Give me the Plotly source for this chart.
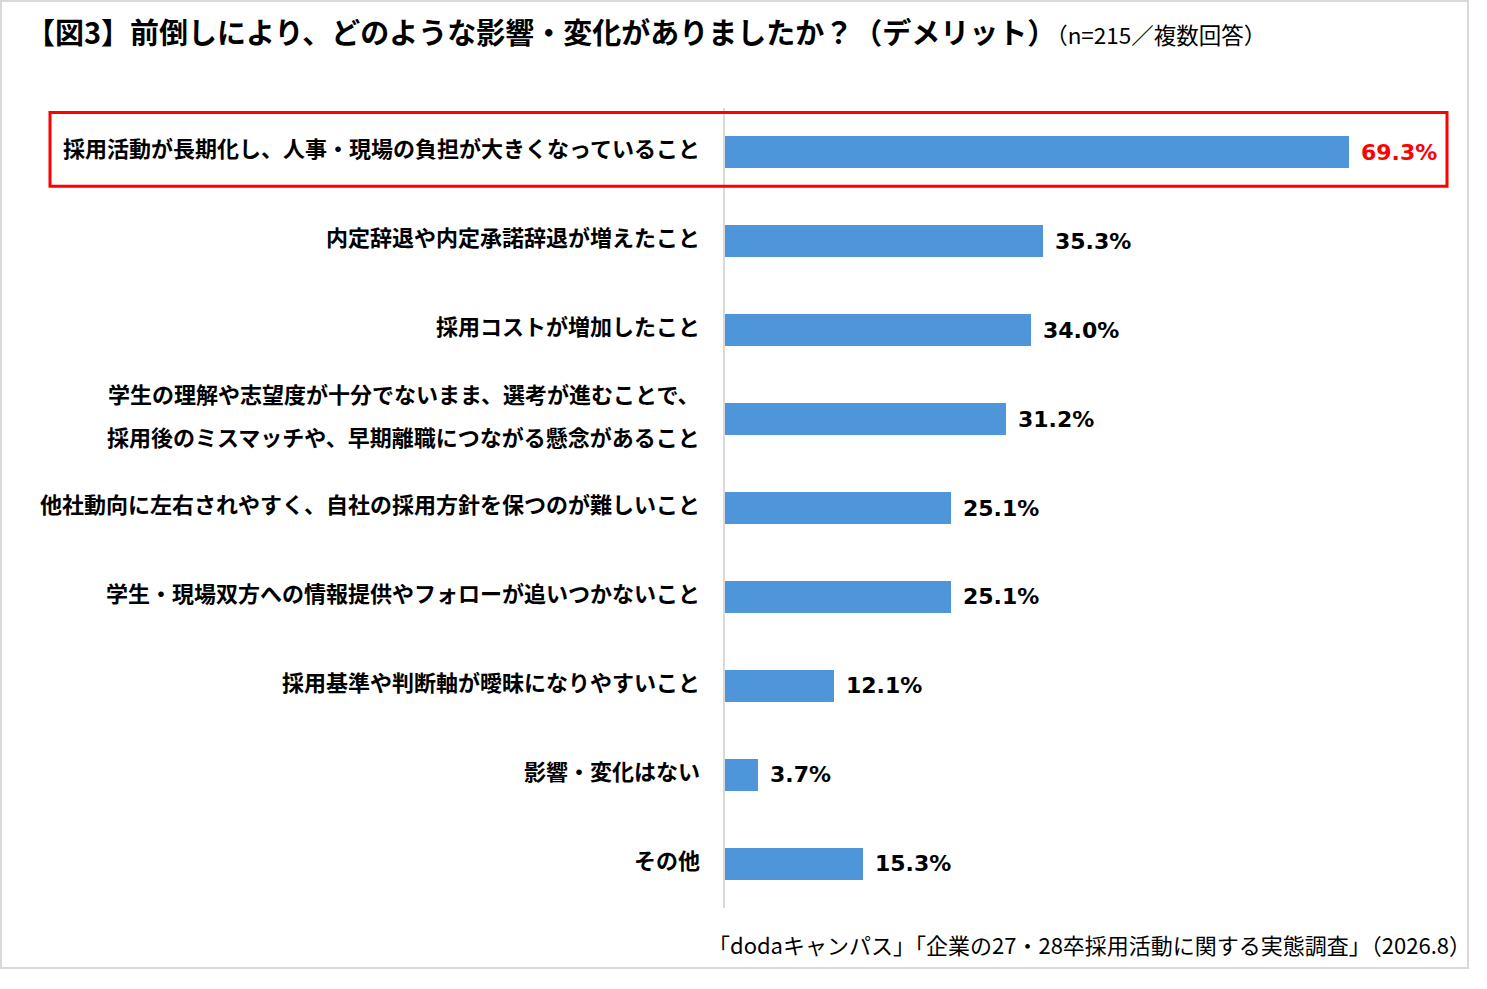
import plotly.graph_objects as go

# chart data
categories = [
    "採用活動が長期化し、人事・現場の負担が大きくなっていること",
    "内定辞退や内定承諾辞退が増えたこと",
    "採用コストが増加したこと",
    "学生の理解や志望度が十分でないまま、選考が進むことで、\n採用後のミスマッチや、早期離職につながる懸念があること",
    "他社動向に左右されやすく、自社の採用方針を保つのが難しいこと",
    "学生・現場双方への情報提供やフォローが追いつかないこと",
    "採用基準や判断軸が曖昧になりやすいこと",
    "影響・変化はない",
    "その他",
]
values = [69.3, 35.3, 34.0, 31.2, 25.1, 25.1, 12.1, 3.7, 15.3]
highlight = [True, False, False, False, False, False, False, False, False]

title_main = "【図3】前倒しにより、どのような影響・変化がありましたか？（デメリット）"
title_note = "（n=215／複数回答）"
source_text = "「dodaキャンパス」「企業の27・28卒採用活動に関する実態調査」（2026.8）"

JP = "Noto Sans CJK JP"
NUM = "DejaVu Sans"

W, H = 1487, 989

# plot area in pixels
L_px, R_px, T_px, B_px = 725, 1445, 108, 908
L, R, T, B = L_px, W - R_px, T_px, H - B_px
pw, ph = W - L - R, H - T - B


def px_x(p):
    return (p - L_px) / pw


def px_y(p):
    return (B_px - p) / ph


y_ids = list(range(len(categories)))

fig = go.Figure()
fig.add_trace(go.Bar(
    x=values,
    y=y_ids,
    orientation="h",
    width=0.36,
    marker=dict(color="#4F95D9", line=dict(width=0)),
    hoverinfo="skip",
))

annotations = []
# category labels, right aligned next to the axis line
for i, label in enumerate(categories):
    lines = label.split("\n")
    n = len(lines)
    for j, line in enumerate(lines):
        annotations.append(dict(
            x=0, xref="paper", y=i, yref="y",
            text="<b>" + line + "</b>",
            xanchor="right", yanchor="middle",
            xshift=-23, yshift=5 + ((n - 1) / 2 - j) * 43,
            showarrow=False,
            font=dict(family=JP, size=22, color="#000000"),
        ))

# value labels
for i, v in enumerate(values):
    annotations.append(dict(
        x=v, xref="x", y=i, yref="y",
        text="<b>%.1f%%</b>" % v,
        xanchor="left", yanchor="middle",
        xshift=10,
        showarrow=False,
        font=dict(family=NUM, size=22,
                  color="#FF0000" if highlight[i] else "#000000"),
    ))

# title
annotations.append(dict(
    x=px_x(24), xref="paper", y=px_y(31), yref="paper",
    text="<b>" + title_main + "</b><span style='font-size:22.5px;font-weight:normal'>" + title_note + "</span>",
    xanchor="left", yanchor="middle", showarrow=False,
    font=dict(family=JP, size=29, color="#000000"),
))
# source
annotations.append(dict(
    x=px_x(1473), xref="paper", y=px_y(944), yref="paper",
    text=source_text,
    xanchor="right", yanchor="middle", showarrow=False,
    font=dict(family=JP, size=22, color="#000000"),
))

shapes = [
    # outer frame
    dict(type="rect", xref="paper", yref="paper",
         x0=px_x(1), x1=px_x(1468), y0=px_y(968), y1=px_y(1),
         line=dict(color="#D9D9D9", width=2), fillcolor="rgba(0,0,0,0)", layer="below"),
    # highlight box around first item
    dict(type="rect", xref="paper", yref="y",
         x0=px_x(50), x1=px_x(1447), y0=-0.45, y1=0.38,
         line=dict(color="#FF0000", width=3), fillcolor="rgba(0,0,0,0)"),
]

fig.update_layout(
    width=W, height=H,
    margin=dict(l=L, r=R, t=T, b=B),
    paper_bgcolor="white",
    plot_bgcolor="white",
    showlegend=False,
    bargap=0,
    xaxis=dict(range=[0, 80], visible=False, fixedrange=True),
    yaxis=dict(
        range=[len(categories) - 0.5, -0.5],
        showticklabels=False,
        showgrid=False, zeroline=False,
        showline=True, linecolor="#D9D9D9", linewidth=2,
        ticks="", fixedrange=True,
    ),
    annotations=annotations,
    shapes=shapes,
)

# drop the page's default body margin so the figure sits at the corner
fig.write_html("out.html", config={"displayModeBar": False},
               post_script="document.body.style.margin='0';")
